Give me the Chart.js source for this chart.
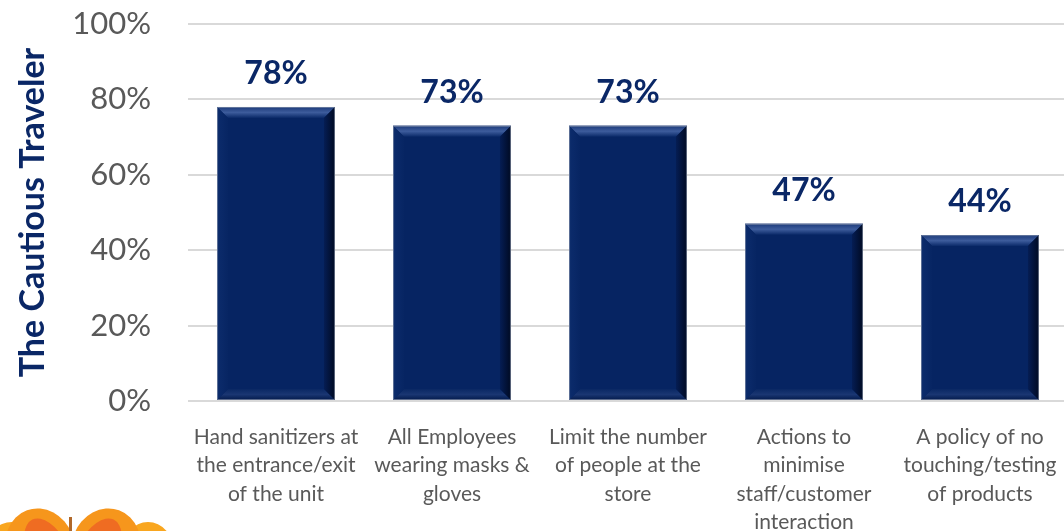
<!DOCTYPE html>
<html>
<head>
<meta charset="utf-8">
<script src="https://cdn.jsdelivr.net/npm/chart.js@4.4.1/dist/chart.umd.min.js"></script>
<style>
  html, body { margin: 0; padding: 0; background: #ffffff; overflow: hidden; }
  #wrap { width: 1068px; height: 531px; position: relative; }
</style>
</head>
<body>
<div id="wrap"><canvas id="chart" width="1068" height="531"></canvas></div>
<script>
// Share of respondents expecting each safety measure
const categories = [
  ["Hand sanitizers at", "the entrance/exit", "of the unit"],
  ["All Employees", "wearing masks &", "gloves"],
  ["Limit the number", "of people at the", "store"],
  ["Actions to", "minimise", "staff/customer", "interaction"],
  ["A policy of no", "touching/testing", "of products"]
];
const shares = [78, 73, 73, 47, 44];
const yTicks = [0, 20, 40, 60, 80, 100];
const axisTitle = "The Cautious Traveler";

const NAVY = "#062462";
const FONT = "Lato, 'Open Sans', sans-serif";

// Bevelled edges on each bar
const bevelPlugin = {
  id: "bevel",
  afterDatasetsDraw(chart) {
    const ctx = chart.ctx;
    const meta = chart.getDatasetMeta(0);
    meta.data.forEach(bar => {
      const w = bar.width;
      const l = bar.x - w / 2, r = bar.x + w / 2, t = bar.y, b = bar.base;
      const s = 11;
      ctx.save();
      // top edge
      let g = ctx.createLinearGradient(0, t, 0, t + s);
      g.addColorStop(0, "#1c3a7a");
      g.addColorStop(0.5, "#3d5c9c");
      g.addColorStop(1, "#0a2968");
      ctx.fillStyle = g;
      ctx.beginPath();
      ctx.moveTo(l, t); ctx.lineTo(r, t); ctx.lineTo(r - s, t + s); ctx.lineTo(l + s, t + s);
      ctx.closePath(); ctx.fill();
      // bottom edge
      g = ctx.createLinearGradient(0, b - s, 0, b);
      g.addColorStop(0, "#0a2864");
      g.addColorStop(0.5, "#1a3672");
      g.addColorStop(1, "#031a4c");
      ctx.fillStyle = g;
      ctx.beginPath();
      ctx.moveTo(l, b); ctx.lineTo(r, b); ctx.lineTo(r - s, b - s); ctx.lineTo(l + s, b - s);
      ctx.closePath(); ctx.fill();
      // right edge
      g = ctx.createLinearGradient(r - s, 0, r, 0);
      g.addColorStop(0, "#051d54");
      g.addColorStop(1, "#000a22");
      ctx.fillStyle = g;
      ctx.beginPath();
      ctx.moveTo(r, t); ctx.lineTo(r, b); ctx.lineTo(r - s, b - s); ctx.lineTo(r - s, t + s);
      ctx.closePath(); ctx.fill();
      // left edge
      g = ctx.createLinearGradient(l, 0, l + s, 0);
      g.addColorStop(0, "#0c2c6c");
      g.addColorStop(1, "#072563");
      ctx.fillStyle = g;
      ctx.beginPath();
      ctx.moveTo(l, t); ctx.lineTo(l, b); ctx.lineTo(l + s, b - s); ctx.lineTo(l + s, t + s);
      ctx.closePath(); ctx.fill();
      // thin outline
      ctx.strokeStyle = "rgba(150,160,180,0.6)";
      ctx.lineWidth = 1;
      ctx.strokeRect(l + 0.5, t + 0.5, w - 1, b - t - 1);
      ctx.restore();
    });
  }
};

// Value labels above the bars
const valueLabelPlugin = {
  id: "valueLabels",
  afterDatasetsDraw(chart) {
    const ctx = chart.ctx;
    const meta = chart.getDatasetMeta(0);
    ctx.save();
    ctx.font = "bold 32px " + FONT;
    ctx.fillStyle = "#0a2766";
    ctx.textAlign = "center";
    ctx.textBaseline = "middle";
    meta.data.forEach((bar, i) => {
      ctx.fillText(shares[i] + "%", bar.x, bar.y - 33);
    });
    ctx.restore();
  }
};

// Corner logo (butterfly wings, cropped by the page edge)
const logoPlugin = {
  id: "logo",
  afterDraw(chart) {
    const ctx = chart.ctx;
    ctx.save();
    ctx.filter = "blur(0.6px)";
    ctx.fillStyle = "#f9a61f";
    ctx.beginPath(); ctx.ellipse(12, 548, 26, 26, 0, 0, Math.PI * 2); ctx.fill();
    ctx.beginPath(); ctx.ellipse(148, 552, 26, 30, 0, 0, Math.PI * 2); ctx.fill();
    ctx.fillStyle = "#f6961c";
    ctx.beginPath(); ctx.ellipse(40, 546, 34, 38, -0.35, 0, Math.PI * 2); ctx.fill();
    ctx.beginPath(); ctx.ellipse(106, 546, 34, 38, 0.35, 0, Math.PI * 2); ctx.fill();
    ctx.fillStyle = "#ef6c22";
    ctx.beginPath(); ctx.ellipse(48, 552, 20, 36, -0.45, 0, Math.PI * 2); ctx.fill();
    ctx.beginPath(); ctx.ellipse(98, 552, 20, 36, 0.45, 0, Math.PI * 2); ctx.fill();
    ctx.fillStyle = "#b0682a";
    ctx.fillRect(69, 517, 3, 14);
    ctx.restore();
  }
};

new Chart(document.getElementById("chart"), {
  type: "bar",
  data: {
    labels: categories,
    datasets: [{
      data: shares,
      backgroundColor: NAVY,
      borderWidth: 0,
      categoryPercentage: 1,
      barPercentage: 0.67
    }]
  },
  options: {
    responsive: false,
    animation: false,
    events: [],
    layout: { padding: { top: 24 } },
    plugins: {
      legend: { display: false },
      tooltip: { enabled: false }
    },
    scales: {
      x: {
        grid: { display: false, drawTicks: false },
        border: { display: false },
        ticks: {
          color: "#595959",
          font: { family: FONT, size: 21, lineHeight: 1.35 },
          padding: 22,
          maxRotation: 0,
          autoSkip: false
        },
        afterFit(scale) {
          scale.height = 130;
          scale.paddingTop = 0;
          scale.paddingLeft = 0;
          scale.paddingRight = 0;
        }
      },
      y: {
        min: 0,
        max: 100,
        afterBuildTicks(scale) { scale.ticks = yTicks.map(v => ({ value: v })); },
        grid: { color: "#d9d9d9", lineWidth: 2, drawTicks: false },
        border: { display: false },
        ticks: {
          color: "#595959",
          font: { family: FONT, size: 31 },
          padding: 37,
          callback: v => v + "%"
        },
        title: {
          display: true,
          text: axisTitle,
          color: "#0a2766",
          font: { family: FONT, size: 34, weight: "bold" },
          padding: { top: 13, bottom: 0 }
        },
        afterFit(scale) { scale.width = 188; scale.paddingTop = 0; scale.paddingBottom = 0; }
      }
    }
  },
  plugins: [bevelPlugin, valueLabelPlugin, logoPlugin]
});
</script>
</body>
</html>
